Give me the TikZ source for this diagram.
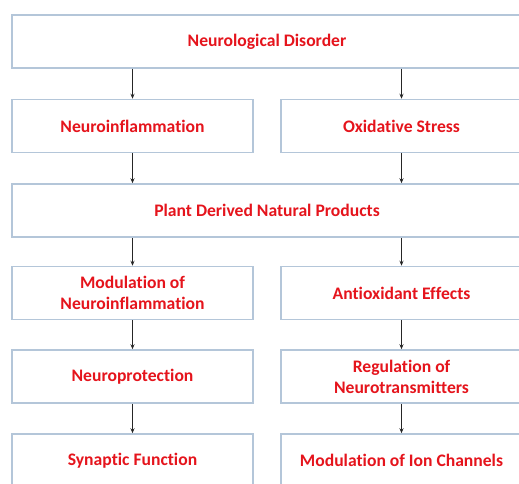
\documentclass[tikz,border=0pt]{standalone}
\usepackage{fontspec}
\setmainfont{Carlito}[Ligatures=NoCommon]
\usetikzlibrary{arrows.meta}
\definecolor{boxline}{HTML}{B4C6D9}
\definecolor{boxtext}{HTML}{E5141C}
\tikzset{
  box/.style={draw=boxline, line width=1.5pt, fill=white, minimum height=53pt, align=center,
    text=boxtext, font=\fontsize{17.6}{21}\selectfont\bfseries, inner sep=0pt},
  wide/.style={box, minimum width=510pt},
  half/.style={box, minimum width=241pt},
  arr/.style={draw=black!85, line width=0.8pt, -{Stealth[length=5pt,width=4pt]}}
}
\begin{document}
\begin{tikzpicture}[x=1pt,y=1pt]
\clip (0,0) rectangle (519,483);
\node[wide] (disorder) at (267,441.5) {Neurological Disorder};
\node[half] (inflam) at (132.5,357) {Neuroinflammation};
\node[half] (oxid) at (401.5,357) {Oxidative Stress};
\node[wide] (plant) at (267,272.5) {Plant Derived Natural Products};
\node[half] (modinf) at (132.5,190) {Modulation of\\Neuroinflammation};
\node[half] (antiox) at (401.5,190) {Antioxidant Effects};
\node[half] (protect) at (132.5,106.5) {Neuroprotection};
\node[half] (regul) at (401.5,106.5) {Regulation of\\Neurotransmitters};
\node[half] (synap) at (132.5,22.5) {Synaptic Function};
\node[half] (ionch) at (401.5,22.5) {Modulation of Ion Channels};
\draw[arr] (inflam.north |- disorder.south) -- (inflam.north);
\draw[arr] (oxid.north |- disorder.south) -- (oxid.north);
\draw[arr] (inflam.south) -- (inflam.south |- plant.north);
\draw[arr] (oxid.south) -- (oxid.south |- plant.north);
\draw[arr] (modinf.north |- plant.south) -- (modinf.north);
\draw[arr] (antiox.north |- plant.south) -- (antiox.north);
\draw[arr] (modinf) -- (protect);
\draw[arr] (antiox) -- (regul);
\draw[arr] (protect) -- (synap);
\draw[arr] (regul) -- (ionch);
\end{tikzpicture}
\end{document}
